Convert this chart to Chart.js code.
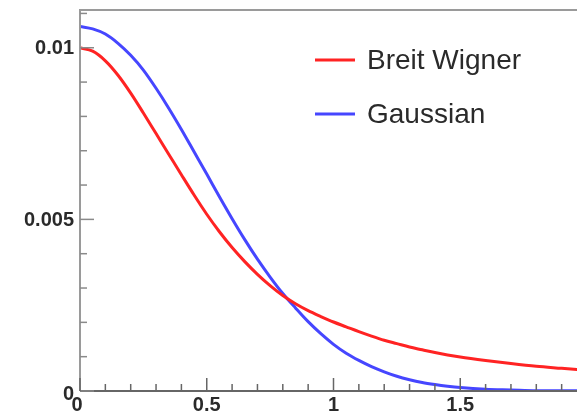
<!DOCTYPE html>
<html>
<head>
<meta charset="utf-8">
<script src="https://cdn.jsdelivr.net/npm/chart.js@4"></script>
<style>
  html, body { margin: 0; padding: 0; background: #fff; overflow: hidden; }
  #wrap { width: 577px; height: 414px; overflow: hidden; }
</style>
</head>
<body>
<div id="wrap"><canvas id="grafico" width="600" height="414"></canvas></div>
<script>
var xValores = [0, 0.05, 0.1, 0.15, 0.2, 0.25, 0.3, 0.35, 0.4, 0.45, 0.5, 0.55, 0.6, 0.65, 0.7, 0.75, 0.8, 0.85, 0.9, 0.95,
    1.0, 1.05, 1.1, 1.15, 1.2, 1.25, 1.3, 1.35, 1.4, 1.45, 1.5, 1.6, 1.7, 1.8, 1.9, 2.0];
var breitWigner = [0.01000, 0.00990, 0.00962, 0.00920, 0.00868, 0.00810, 0.00750, 0.00690, 0.00630, 0.00571, 0.00515,
    0.00464, 0.00418, 0.00377, 0.00340, 0.00307, 0.00278, 0.00254, 0.00234, 0.00217, 0.00201, 0.00187, 0.00173,
    0.00160, 0.00148, 0.00138, 0.00128, 0.00120, 0.00112, 0.00105, 0.00099, 0.00089, 0.00080, 0.00072, 0.00066, 0.00060];
var gaussiana = [0.01062, 0.01055, 0.01040, 0.01013, 0.00978, 0.00935, 0.00882, 0.00824, 0.00762, 0.00697, 0.00632,
    0.00566, 0.00502, 0.00441, 0.00384, 0.00332, 0.00284, 0.00242, 0.00202, 0.00167, 0.00136, 0.00110, 0.00089,
    0.00071, 0.00056, 0.00043, 0.00033, 0.00025, 0.00019, 0.00014, 0.00010, 0.00005, 0.00003, 0.00001, 0.00001, 0];
var nomesSeries = ['Breit Wigner', 'Gaussian'];
var ticksX = [0, 0.5, 1, 1.5, 2];
var rotulosX = ['0', '0.5', '1', '1.5', '2'];
var ticksY = [0, 0.005, 0.01];
var rotulosY = ['0', '0.005', '0.01'];

var corVermelha = 'rgb(255,35,35)';
var corAzul = 'rgb(70,70,255)';

function pontos(ys) {
    return xValores.map(function (x, i) { return { x: x, y: ys[i] }; });
}

// eixos, ticks internos e legenda no estilo ROOT
var desenhoRoot = {
    id: 'desenhoRoot',
    afterDatasetsDraw: function (chart) {
        var ctx = chart.ctx;
        var area = chart.chartArea;
        var sx = chart.scales.x, sy = chart.scales.y;
        ctx.save();

        // moldura
        ctx.strokeStyle = '#9a9a9a';
        ctx.lineWidth = 2;
        ctx.beginPath();
        ctx.moveTo(area.left, area.bottom);
        ctx.lineTo(area.left, area.top);
        ctx.lineTo(area.right + 20, area.top);
        ctx.stroke();
        ctx.strokeStyle = '#666';
        ctx.beginPath();
        ctx.moveTo(area.left, area.bottom);
        ctx.lineTo(area.right + 20, area.bottom);
        ctx.stroke();

        // ticks y
        ctx.lineWidth = 1.5;
        ctx.strokeStyle = '#8a8a8a';
        for (var k = 0; k <= 11; k++) {
            var v = k * 0.001;
            var py = sy.getPixelForValue(v);
            var len = (k % 5 === 0) ? 14 : 7;
            ctx.beginPath();
            ctx.moveTo(area.left, py);
            ctx.lineTo(area.left + len, py);
            ctx.stroke();
        }
        // ticks x
        ctx.strokeStyle = '#666';
        for (var j = 0; j <= 20; j++) {
            var vx = j * 0.1;
            var px = sx.getPixelForValue(vx);
            var lx = (j % 5 === 0) ? 13 : 7;
            ctx.beginPath();
            ctx.moveTo(px, area.bottom);
            ctx.lineTo(px, area.bottom - lx);
            ctx.stroke();
        }

        // rotulos
        ctx.fillStyle = '#2a2a2a';
        ctx.font = 'bold 20px "Liberation Sans", Arial, sans-serif';
        ctx.textAlign = 'right';
        ctx.textBaseline = 'middle';
        ticksY.forEach(function (t, i) {
            var py = sy.getPixelForValue(t);
            if (t === 0) py += 2;
            ctx.fillText(rotulosY[i], area.left - 6, py + 1);
        });
        ctx.textAlign = 'center';
        ctx.textBaseline = 'top';
        ticksX.forEach(function (t, i) {
            var px = sx.getPixelForValue(t);
            if (t === 0) px -= 3;
            ctx.fillText(rotulosX[i], px, area.bottom + 4);
        });

        // legenda
        ctx.font = '28px "Liberation Sans", Arial, sans-serif';
        ctx.textAlign = 'left';
        ctx.textBaseline = 'middle';
        ctx.lineWidth = 3;
        chart.data.datasets.forEach(function (ds, i) {
            var ly = 60 + i * 54;
            ctx.strokeStyle = ds.borderColor;
            ctx.beginPath();
            ctx.moveTo(315, ly);
            ctx.lineTo(355, ly);
            ctx.stroke();
            ctx.fillStyle = '#2a2a2a';
            ctx.fillText(ds.label, 367, ly + 1);
        });
        ctx.restore();
    }
};

var ctx = document.getElementById('grafico').getContext('2d');
var grafico = new Chart(ctx, {
    type: 'line',
    data: {
        datasets: [{
            label: nomesSeries[0],
            data: pontos(breitWigner),
            borderColor: corVermelha,
            borderWidth: 3,
            pointRadius: 0,
            cubicInterpolationMode: 'monotone',
            fill: false
        }, {
            label: nomesSeries[1],
            data: pontos(gaussiana),
            borderColor: corAzul,
            borderWidth: 3,
            pointRadius: 0,
            cubicInterpolationMode: 'monotone',
            fill: false
        }]
    },
    options: {
        responsive: false,
        animation: false,
        layout: { padding: { left: 80, right: 13, top: 10, bottom: 23 } },
        plugins: { legend: { display: false }, tooltip: { enabled: false } },
        scales: {
            x: { type: 'linear', min: 0, max: 2, display: false },
            y: { type: 'linear', min: 0, max: 0.0111, display: false }
        }
    },
    plugins: [desenhoRoot]
});
</script>
</body>
</html>
